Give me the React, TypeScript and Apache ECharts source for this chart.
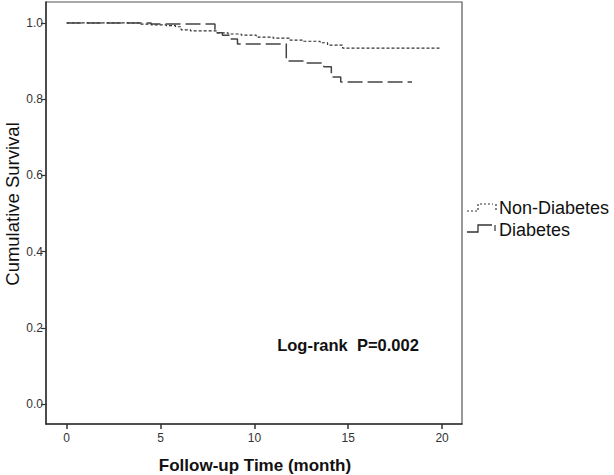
import React, { useEffect, useRef } from "react";
import * as echarts from "echarts";

const nonDiabetesTime = [0, 3.9, 4.5, 5.3, 5.8, 6.1, 6.6, 8.0, 8.6, 9.3, 10.1, 11.0, 11.9, 12.6, 13.5, 13.9, 14.7, 19.9];
const nonDiabetesSurv = [1.0, 0.997, 0.995, 0.993, 0.99, 0.982, 0.979, 0.974, 0.971, 0.968, 0.963, 0.96, 0.955, 0.952, 0.948, 0.942, 0.934, 0.934];
const diabetesTime = [0, 4.5, 7.9, 8.3, 8.7, 9.1, 11.7, 12.8, 13.7, 14.1, 14.6, 18.4];
const diabetesSurv = [1.0, 0.997, 0.974, 0.968, 0.958, 0.945, 0.9, 0.895, 0.885, 0.858, 0.845, 0.845];
const xTicks = [0, 5, 10, 15, 20];
const yTicks = [0, 0.2, 0.4, 0.6, 0.8, 1.0];
const seriesNames = ["Non-Diabetes", "Diabetes"];

export default function App() {
  const ref = useRef<HTMLDivElement>(null);
  useEffect(() => {
    const chart = echarts.init(ref.current!, null, { renderer: "svg" });
    const font = "Liberation Sans, Arial, sans-serif";
    const zip = (t: number[], s: number[]) => t.map((v, i) => [v, s[i]]);
    chart.setOption({
      animation: false,
      backgroundColor: "#fff",
      grid: { left: 46, top: 2, right: 152, bottom: 51, show: true, borderColor: "#555", borderWidth: 1.2 },
      xAxis: {
        type: "value",
        min: -1.1,
        max: 21.06,
        axisLine: { show: true, onZero: false, lineStyle: { color: "#333", width: 1.5 } },
        axisTick: { show: true, customValues: xTicks, length: 5, lineStyle: { color: "#333", width: 1.5 } },
        axisLabel: { customValues: xTicks, color: "#333", fontSize: 12, fontFamily: font, margin: 8 },
        splitLine: { show: false },
      },
      yAxis: {
        type: "value",
        min: -0.0525,
        max: 1.055,
        axisLine: { show: true, onZero: false, lineStyle: { color: "#333", width: 1.5 } },
        axisTick: { show: true, customValues: yTicks, length: 5, lineStyle: { color: "#333", width: 1.2 } },
        axisLabel: {
          customValues: yTicks,
          color: "#333",
          fontSize: 12,
          fontFamily: font,
          margin: 3,
          formatter: (v: number) => v.toFixed(1),
        },
        splitLine: { show: false },
      },
      series: [
        {
          name: seriesNames[0],
          type: "line",
          step: "end",
          showSymbol: false,
          data: zip(nonDiabetesTime, nonDiabetesSurv),
          lineStyle: { color: "#333", width: 1.2, type: [3, 2] },
        },
        {
          name: seriesNames[1],
          type: "line",
          step: "end",
          showSymbol: false,
          data: zip(diabetesTime, diabetesSurv),
          lineStyle: { color: "#444", width: 1.5, type: [15, 5] },
        },
      ],
      graphic: [
        {
          type: "text",
          x: 255,
          y: 465,
          style: { text: "Follow-up Time (month)", font: `bold 17px ${font}`, fill: "#111", align: "center", verticalAlign: "middle" },
        },
        {
          type: "text",
          x: 12,
          y: 204,
          rotation: Math.PI / 2,
          style: { text: "Cumulative Survival", font: `18.5px ${font}`, fill: "#111", align: "center", verticalAlign: "middle" },
        },
        {
          type: "text",
          x: 348,
          y: 345,
          style: { text: "Log-rank  P=0.002", font: `bold 16.5px ${font}`, fill: "#111", align: "center", verticalAlign: "middle" },
        },
        {
          type: "polyline",
          shape: { points: [[467, 211], [478, 211], [478, 204], [493, 204]] },
          style: { stroke: "#333", lineWidth: 1.2, lineDash: [2, 2], fill: null },
        },
        {
          type: "line",
          shape: { x1: 496, y1: 204, x2: 496, y2: 210 },
          style: { stroke: "#333", lineWidth: 1.2, lineDash: [2, 2] },
        },
        {
          type: "text",
          x: 499,
          y: 208,
          style: { text: seriesNames[0], font: `18px ${font}`, fill: "#111", verticalAlign: "middle" },
        },
        {
          type: "polyline",
          shape: { points: [[467, 232], [478, 232], [478, 225], [492, 225]] },
          style: { stroke: "#333", lineWidth: 1.3, fill: null },
        },
        {
          type: "line",
          shape: { x1: 495, y1: 225, x2: 495, y2: 231 },
          style: { stroke: "#333", lineWidth: 1.2 },
        },
        {
          type: "text",
          x: 499,
          y: 230,
          style: { text: seriesNames[1], font: `18px ${font}`, fill: "#111", verticalAlign: "middle" },
        },
      ],
    });
    return () => chart.dispose();
  }, []);
  return <div ref={ref} style={{ width: 614, height: 475, position: "fixed", left: 0, top: 0 }} />;
}
